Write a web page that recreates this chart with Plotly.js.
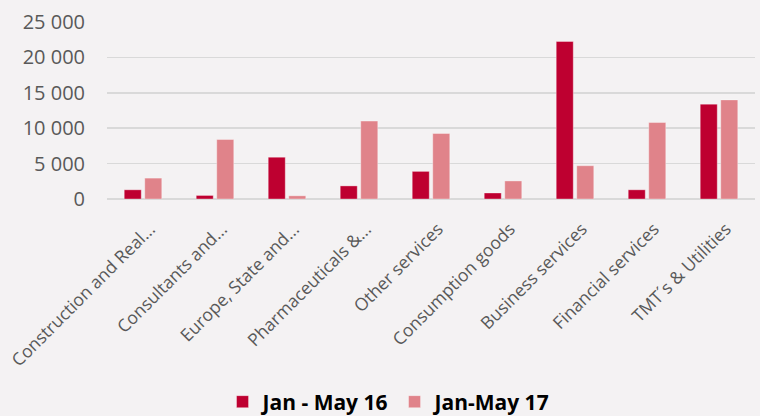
<!DOCTYPE html>
<html>
<head>
<meta charset="utf-8">
<script src="https://cdn.plot.ly/plotly-3.0.1.min.js"></script>
<style>html,body{margin:0;padding:0;background:#F4F2F3;}#chart{width:760px;height:416px;}</style>
</head>
<body>
<div id="chart"></div>
<script>
const categories = [
  "Construction and Real...",
  "Consultants and...",
  "Europe, State and...",
  "Pharmaceuticals &...",
  "Other services",
  "Consumption goods",
  "Business services",
  "Financial services",
  "TMT´s & Utilities"
];
const series16Name = "Jan - May 16";
const series17Name = "Jan-May 17";
const values16 = [1300, 500, 5900, 1850, 3900, 850, 22250, 1300, 13400];
const values17 = [2950, 8400, 450, 11000, 9250, 2550, 4700, 10800, 14000];
const yTickVals = [0, 5000, 10000, 15000, 20000, 25000];
const yTickText = ["0", "5 000", "10 000", "15 000", "20 000", "25 000"];

const traces = [
  {type: 'bar', x: categories, y: values16, name: series16Name,
   marker: {color: '#BE0030', line: {color: 'rgba(255,255,255,0.35)', width: 1}}},
  {type: 'bar', x: categories, y: values17, name: series17Name,
   marker: {color: '#E0838A', line: {color: 'rgba(255,255,255,0.35)', width: 1}}}
];

const layout = {
  width: 760, height: 416,
  paper_bgcolor: '#F4F2F3', plot_bgcolor: '#F4F2F3',
  margin: {l: 107, r: 5, t: 22, b: 217, autoexpand: false},
  barmode: 'group', bargap: 0.43, bargroupgap: 0.17,
  font: {family: 'Open Sans, sans-serif', color: '#595959'},
  xaxis: {
    type: 'category', tickangle: -45, automargin: false,
    tickfont: {size: 17.5, color: '#595959', family: 'Open Sans, sans-serif'},
    ticks: 'outside', ticklen: 12, tickcolor: 'rgba(0,0,0,0)', ticklabelshift: 7,
    showgrid: false, showline: false, zeroline: false
  },
  yaxis: {
    range: [0, 25000], tickvals: yTickVals, ticktext: yTickText,
    tickfont: {size: 20, color: '#595959', family: 'Open Sans, sans-serif'},
    gridcolor: '#D9D9D9', gridwidth: 1.5, zeroline: true, zerolinecolor: '#D9D9D9', zerolinewidth: 1.5,
    showline: false, ticks: '', automargin: false, ticklabelstandoff: 21
  },
  showlegend: true,
  legend: {
    orientation: 'h', x: 0.436, xanchor: 'center', y: -1.147, yanchor: 'middle',
    font: {size: 21, color: '#000000', family: 'Open Sans, sans-serif', weight: 'bold'},
    bgcolor: 'rgba(0,0,0,0)', itemwidth: 30, tracegroupgap: 0
  }
};

Plotly.newPlot('chart', traces, layout, {displayModeBar: false, staticPlot: true});
</script>
</body>
</html>
